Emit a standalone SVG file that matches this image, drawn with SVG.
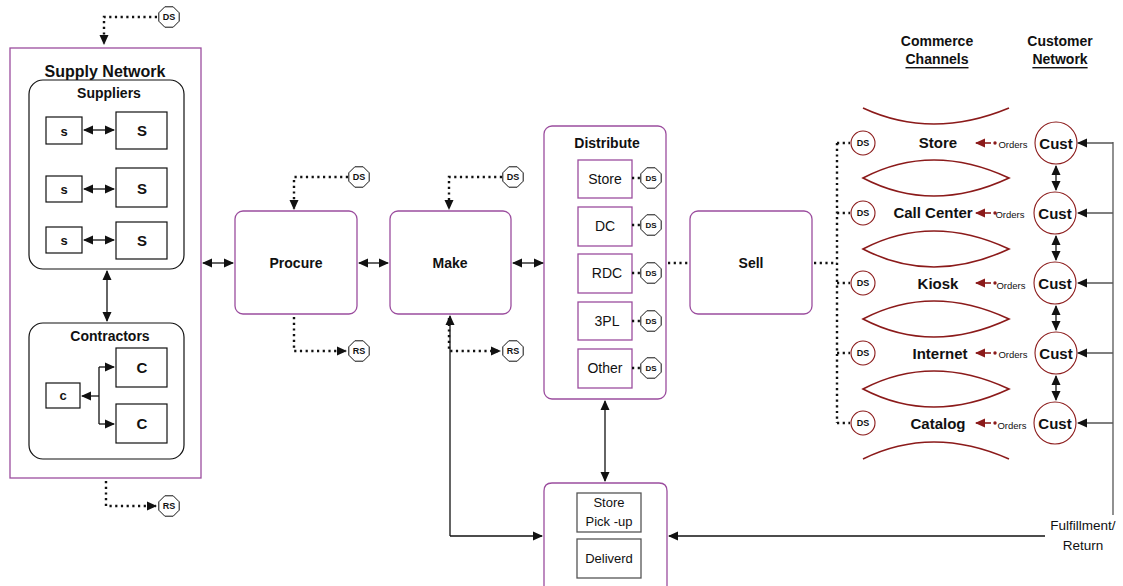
<svg xmlns="http://www.w3.org/2000/svg" width="1123" height="586" viewBox="0 0 1123 586">
<defs>
<style>
.t{font-family:"Liberation Sans",Arial,sans-serif;fill:#111;text-anchor:middle;dominant-baseline:central}
.b{font-weight:bold}
.pb{fill:#fff;stroke:#9b4d9e;stroke-width:1.3}
.kb{fill:#fff;stroke:#111;stroke-width:1.2}
.gb{fill:#fff;stroke:#555;stroke-width:1.3}
.ln{fill:none;stroke:#111;stroke-width:1.3}
.gl{fill:none;stroke:#555;stroke-width:1.3}
.dt{fill:none;stroke:#111;stroke-width:2.4;stroke-dasharray:2.2 3.5}
.mr{fill:none;stroke:#8b1a1a;stroke-width:1.6}
.oct{fill:#fff;stroke:#111;stroke-width:1}
.mc{fill:#fff;stroke:#8b1a1a;stroke-width:1.1}
</style>
<marker id="ah" viewBox="0 0 10 10" refX="9" refY="5" markerWidth="10" markerHeight="10" orient="auto-start-reverse" markerUnits="userSpaceOnUse"><path d="M0,0.5 L10,5 L0,9.5 z" fill="#111"/></marker>
<marker id="ahm" viewBox="0 0 10 10" refX="9" refY="5" markerWidth="10" markerHeight="10" orient="auto" markerUnits="userSpaceOnUse"><path d="M0,0.5 L10,5 L0,9.5 z" fill="#8b1a1a"/></marker>
<polygon id="oc" points="10.2,4.2 4.2,10.2 -4.2,10.2 -10.2,4.2 -10.2,-4.2 -4.2,-10.2 4.2,-10.2 10.2,-4.2"/>
</defs>
<rect width="1123" height="586" fill="#fff"/>

<g id="supply-network">
<rect x="10" y="48" width="191" height="430" fill="none" stroke="#9b4d9e" stroke-width="1.3"/>
<text class="t b" x="105" y="71" font-size="16">Supply Network</text>
</g>
<g id="suppliers">
<rect class="kb" x="29" y="80" width="155" height="189" rx="14"/>
<text class="t b" x="109" y="93" font-size="14">Suppliers</text>
<rect class="kb" x="46" y="117" width="36" height="27"/><text class="t b" x="64" y="131" font-size="13">s</text>
<rect class="kb" x="116" y="112" width="51" height="37"/><text class="t b" x="142" y="130" font-size="15">S</text>
<rect class="kb" x="46" y="176" width="36" height="26"/><text class="t b" x="64" y="189" font-size="13">s</text>
<rect class="kb" x="116" y="168" width="51" height="39"/><text class="t b" x="142" y="188" font-size="15">S</text>
<rect class="kb" x="46" y="227" width="36" height="26"/><text class="t b" x="64" y="240" font-size="13">s</text>
<rect class="kb" x="116" y="222" width="51" height="37"/><text class="t b" x="142" y="240" font-size="15">S</text>
</g>
<g id="contractors">
<rect class="kb" x="29" y="323" width="155" height="136" rx="14"/>
<text class="t b" x="110" y="336" font-size="14">Contractors</text>
<rect class="kb" x="46" y="383" width="34" height="25"/><text class="t b" x="63" y="395" font-size="13">c</text>
<rect class="kb" x="116" y="348" width="51" height="39"/><text class="t b" x="142" y="367" font-size="15">C</text>
<rect class="kb" x="116" y="404" width="51" height="39"/><text class="t b" x="142" y="423" font-size="15">C</text>
</g>
<g id="ds-top"><use href="#oc" class="oct" x="169" y="17"/><text class="t b" x="169" y="17" font-size="9">DS</text></g>
<g id="rs-bottom"><use href="#oc" class="oct" x="169" y="506"/><text class="t b" x="169" y="506" font-size="9">RS</text></g>

<g id="procure"><rect class="pb" x="235" y="211" width="122" height="103" rx="8"/><text class="t b" x="296" y="263" font-size="14">Procure</text></g>
<g id="ds-procure"><use href="#oc" class="oct" x="359" y="177"/><text class="t b" x="359" y="177" font-size="9">DS</text></g>
<g id="rs-procure"><use href="#oc" class="oct" x="359" y="351"/><text class="t b" x="359" y="351" font-size="9">RS</text></g>
<g id="make"><rect class="pb" x="390" y="211" width="121" height="103" rx="8"/><text class="t b" x="450" y="263" font-size="14">Make</text></g>
<g id="ds-make"><use href="#oc" class="oct" x="513" y="177"/><text class="t b" x="513" y="177" font-size="9">DS</text></g>
<g id="rs-make"><use href="#oc" class="oct" x="513" y="351"/><text class="t b" x="513" y="351" font-size="9">RS</text></g>

<g id="distribute">
<rect class="pb" x="544" y="126" width="122" height="273" rx="8"/>
<text class="t b" x="607" y="143" font-size="14">Distribute</text>
<rect class="pb" x="578" y="160" width="54" height="38"/><text class="t" x="605" y="179" font-size="14">Store</text>
<rect class="pb" x="578" y="207" width="54" height="39"/><text class="t" x="605" y="226" font-size="14">DC</text>
<rect class="pb" x="578" y="254" width="54" height="39"/><text class="t" x="607" y="273" font-size="14">RDC</text>
<rect class="pb" x="578" y="302" width="54" height="38"/><text class="t" x="607" y="321" font-size="14">3PL</text>
<rect class="pb" x="578" y="349" width="54" height="39"/><text class="t" x="605" y="368" font-size="14">Other</text>
<use href="#oc" class="oct" x="651" y="178"/><text class="t b" x="651" y="178" font-size="8">DS</text>
<use href="#oc" class="oct" x="651" y="225"/><text class="t b" x="651" y="225" font-size="8">DS</text>
<use href="#oc" class="oct" x="651" y="273"/><text class="t b" x="651" y="273" font-size="8">DS</text>
<use href="#oc" class="oct" x="651" y="321"/><text class="t b" x="651" y="321" font-size="8">DS</text>
<use href="#oc" class="oct" x="651" y="368"/><text class="t b" x="651" y="368" font-size="8">DS</text>
</g>

<g id="pickup">
<path class="pb" d="M544,586 V491 Q544,483 552,483 H659 Q667,483 667,491 V586"/>
<rect class="gb" x="577" y="493" width="64" height="39"/>
<text class="t" x="609" y="502" font-size="13">Store</text>
<text class="t" x="609" y="521" font-size="13">Pick -up</text>
<rect class="gb" x="577" y="539" width="64" height="39"/>
<text class="t" x="609" y="558" font-size="13">Deliverd</text>
</g>

<g id="sell"><rect class="pb" x="690" y="211" width="122" height="103" rx="8"/><text class="t b" x="751" y="263" font-size="14">Sell</text></g>

<g id="headers">
<text class="t b" x="937" y="41" font-size="14">Commerce</text>
<text class="t b" x="937" y="59" font-size="14" text-decoration="underline">Channels</text>
<text class="t b" x="1060" y="41" font-size="14">Customer</text>
<text class="t b" x="1060" y="59" font-size="14" text-decoration="underline">Network</text>
</g>

<g id="channel-shapes">
<path class="mr" d="M863,108 Q932,140 1009,108"/>
<path class="mr" d="M863,178 Q932,142 1009,178 Q932,214 863,178 Z"/>
<path class="mr" d="M863,249 Q932,213 1009,249 Q932,285 863,249 Z"/>
<path class="mr" d="M863,319 Q932,283 1009,319 Q932,355 863,319 Z"/>
<path class="mr" d="M863,389 Q932,353 1009,389 Q932,425 863,389 Z"/>
<path class="mr" d="M863,459 Q932,425 1009,459"/>
</g>

<g id="ch-store"><circle class="mc" cx="863" cy="143" r="12"/><text class="t b" x="863" y="143" font-size="9">DS</text><text class="t b" x="938" y="142" font-size="15">Store</text><text class="t" x="1013" y="144" font-size="9.5">Orders</text></g>
<g id="ch-call"><circle class="mc" cx="863" cy="213" r="12"/><text class="t b" x="863" y="213" font-size="9">DS</text><text class="t b" x="933" y="212" font-size="15">Call Center</text><text class="t" x="1010" y="214" font-size="9.5">Orders</text></g>
<g id="ch-kiosk"><circle class="mc" cx="863" cy="283" r="12"/><text class="t b" x="863" y="283" font-size="9">DS</text><text class="t b" x="938" y="283" font-size="15">Kiosk</text><text class="t" x="1011" y="285" font-size="9.5">Orders</text></g>
<g id="ch-internet"><circle class="mc" cx="863" cy="353" r="12"/><text class="t b" x="863" y="353" font-size="9">DS</text><text class="t b" x="940" y="353" font-size="15">Internet</text><text class="t" x="1013" y="354" font-size="9.5">Orders</text></g>
<g id="ch-catalog"><circle class="mc" cx="863" cy="423" r="12"/><text class="t b" x="863" y="423" font-size="9">DS</text><text class="t b" x="938" y="423" font-size="15">Catalog</text><text class="t" x="1012" y="425" font-size="9.5">Orders</text></g>

<g id="cust1"><circle class="mc" cx="1056" cy="143" r="21"/><text class="t b" x="1056" y="143" font-size="15">Cust</text></g>
<g id="cust2"><circle class="mc" cx="1055" cy="213" r="21"/><text class="t b" x="1055" y="213" font-size="15">Cust</text></g>
<g id="cust3"><circle class="mc" cx="1055" cy="283" r="21"/><text class="t b" x="1055" y="283" font-size="15">Cust</text></g>
<g id="cust4"><circle class="mc" cx="1056" cy="353" r="21"/><text class="t b" x="1056" y="353" font-size="15">Cust</text></g>
<g id="cust5"><circle class="mc" cx="1055" cy="423" r="21"/><text class="t b" x="1055" y="423" font-size="15">Cust</text></g>

<g id="fulfillment">
<text class="t" x="1083" y="525" font-size="13.5">Fulfillment/</text>
<text class="t" x="1083" y="545" font-size="13.5">Return</text>
</g>

<g id="connectors">
<path class="dt" d="M157,17 H104 V44" marker-end="url(#ah)"/>
<path class="dt" d="M106,481 V506 H156" marker-end="url(#ah)"/>
<path class="dt" d="M348,177 H294 V209" marker-end="url(#ah)"/>
<path class="dt" d="M294,317 V351 H346" marker-end="url(#ah)"/>
<path class="dt" d="M502,177 H449 V209" marker-end="url(#ah)"/>
<path class="dt" d="M449,318 V351 H500" marker-end="url(#ah)"/>
<path class="ln" d="M450,536 V316" marker-end="url(#ah)"/>
<path class="ln" d="M450,536 H542" marker-end="url(#ah)"/>
<path class="ln" d="M203,263 H233" marker-start="url(#ah)" marker-end="url(#ah)"/>
<path class="ln" d="M359,263 H388" marker-start="url(#ah)" marker-end="url(#ah)"/>
<path class="ln" d="M513,263 H543" marker-start="url(#ah)" marker-end="url(#ah)"/>
<path class="ln" d="M605,401 V481" marker-start="url(#ah)" marker-end="url(#ah)"/>
<path class="ln" d="M84,130 H114" marker-start="url(#ah)" marker-end="url(#ah)"/>
<path class="ln" d="M84,189 H114" marker-start="url(#ah)" marker-end="url(#ah)"/>
<path class="ln" d="M84,240 H114" marker-start="url(#ah)" marker-end="url(#ah)"/>
<path class="ln" d="M107,271 V321" marker-start="url(#ah)" marker-end="url(#ah)"/>
<path class="ln" d="M99,396 H82" marker-end="url(#ah)"/>
<path class="ln" d="M99,367 V424"/>
<path class="ln" d="M99,367 H114" marker-end="url(#ah)"/>
<path class="ln" d="M99,424 H114" marker-end="url(#ah)"/>
<path class="dt" d="M668,263 H690"/>
<path class="dt" d="M814,263 H837"/>
<path class="dt" d="M837,143 V423"/>
<path class="dt" d="M837,143 H850 M837,213 H850 M837,283 H850 M837,353 H850 M837,423 H850"/>
<path class="dt" d="M632,178 H640 M632,225 H640 M632,273 H640 M632,321 H640 M632,368 H640"/>
<path class="ln" d="M1056,166 V190" marker-start="url(#ah)" marker-end="url(#ah)"/>
<path class="ln" d="M1056,236 V260" marker-start="url(#ah)" marker-end="url(#ah)"/>
<path class="ln" d="M1056,306 V330" marker-start="url(#ah)" marker-end="url(#ah)"/>
<path class="ln" d="M1056,376 V400" marker-start="url(#ah)" marker-end="url(#ah)"/>
<path class="gl" d="M1113,142 V515"/>
<path class="gl" d="M1113,143 H1078" marker-end="url(#ah)"/>
<path class="gl" d="M1113,213 H1078" marker-end="url(#ah)"/>
<path class="gl" d="M1113,283 H1078" marker-end="url(#ah)"/>
<path class="gl" d="M1113,353 H1078" marker-end="url(#ah)"/>
<path class="gl" d="M1113,423 H1078" marker-end="url(#ah)"/>
<path class="ln" d="M1045,536 H669" marker-end="url(#ah)"/>
<path class="mr" d="M991,143 H976" marker-end="url(#ahm)"/><circle cx="995" cy="143" r="1.7" fill="#8b1a1a"/>
<path class="mr" d="M991,213 H976" marker-end="url(#ahm)"/><circle cx="995" cy="213" r="1.7" fill="#8b1a1a"/>
<path class="mr" d="M991,283 H976" marker-end="url(#ahm)"/><circle cx="995" cy="283" r="1.7" fill="#8b1a1a"/>
<path class="mr" d="M991,353 H976" marker-end="url(#ahm)"/><circle cx="995" cy="353" r="1.7" fill="#8b1a1a"/>
<path class="mr" d="M991,423 H976" marker-end="url(#ahm)"/><circle cx="995" cy="423" r="1.7" fill="#8b1a1a"/>
</g>
</svg>
